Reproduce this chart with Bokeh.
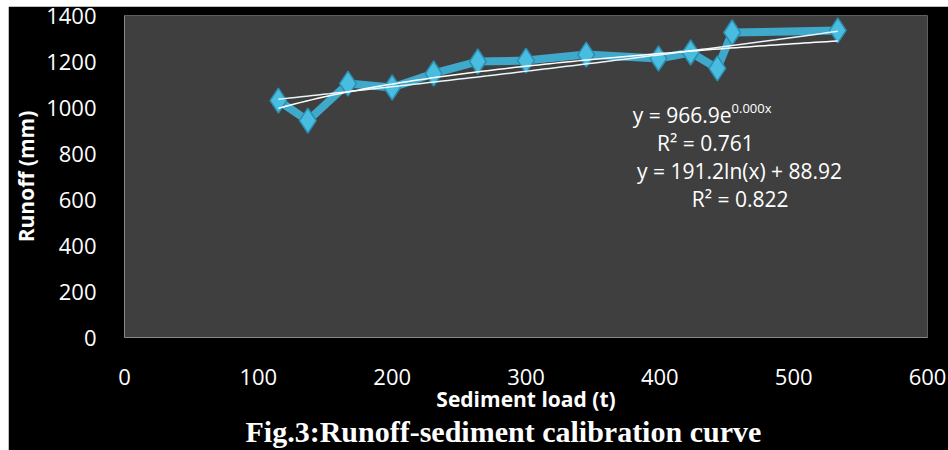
import numpy as np
from bokeh.plotting import figure
from bokeh.models import Range1d, Label, Title, Spacer, FixedTicker
from bokeh.layouts import column, row
from bokeh.embed import file_html
from bokeh.resources import INLINE

# Data
sediment = [115, 137, 167, 200, 231, 264, 300, 345, 399, 423, 443, 454, 533]
runoff = [1030, 943, 1104, 1087, 1148, 1200, 1204, 1230, 1213, 1239, 1170, 1326, 1335]
x_ticks = [0, 100, 200, 300, 400, 500, 600]
y_ticks = [0, 200, 400, 600, 800, 1000, 1200, 1400]

# Trendline equations shown on the chart
exp_a, exp_b = 966.9, 0.0006
log_a, log_b = 191.2, 88.92
eq_exp = "y = 966.9e"
eq_exp_sup = "0.000x"
eq_exp_r2 = "R² = 0.761"
eq_log = "y = 191.2ln(x) + 88.92"
eq_log_r2 = "R² = 0.822"

title_text = "Fig.3:Runoff-sediment calibration curve"

p = figure(frame_width=803, frame_height=322,
           output_backend="svg", toolbar_location=None,
           x_range=Range1d(0, 600), y_range=Range1d(0, 1400),
           min_border_left=116, min_border_right=21, min_border_top=9, min_border_bottom=113)
p.background_fill_color = "#3f3f3f"
p.border_fill_color = "black"
p.outline_line_color = None
p.grid.visible = False

tick_font = "Open Sans"
for ax in (p.xaxis[0], p.yaxis[0]):
    ax.major_label_text_color = "white"
    ax.major_label_text_font = tick_font
    ax.major_label_text_font_size = "22px"
    ax.major_tick_line_color = None
    ax.minor_tick_line_color = None
    ax.axis_line_color = "#8a8a8a"
    ax.axis_line_width = 1
    ax.axis_label_text_color = "white"
    ax.axis_label_text_font = tick_font
    ax.axis_label_text_font_style = "bold"
    ax.axis_label_text_font_size = "21px"

p.xaxis.ticker = FixedTicker(ticks=x_ticks)
p.yaxis.ticker = FixedTicker(ticks=y_ticks)
p.xaxis.axis_label = "Sediment load (t)"
p.yaxis.axis_label = "Runoff (mm)"
p.xaxis.major_label_standoff = 25
p.yaxis.major_label_standoff = 22
p.xaxis.axis_label_standoff = -3
p.yaxis.axis_label_standoff = 3

# series
p.line(sediment, runoff, line_color="#3fa9cc", line_width=8, line_join="round")
p.scatter(sediment, runoff, marker="diamond", size=25, fill_color="#49bde0",
          line_color="#2b8db0", line_width=1.5)

# trendlines
xs = np.linspace(min(sediment), max(sediment), 100)
p.line(xs, exp_a * np.exp(exp_b * xs), line_color="#e8f6fb", line_width=1.5)
p.line(xs, log_a * np.log(xs) + log_b, line_color="white", line_width=1.5)

lab = dict(text_color="white", text_font="Open Sans", text_font_size="21px",
           text_baseline="middle")
p.add_layout(Label(x=453.6, y=967, text=eq_exp, text_align="right", **lab))
p.add_layout(Label(x=453.6, y=997, text=eq_exp_sup, text_align="left",
                   text_color="white", text_font="Open Sans", text_font_size="13px",
                   text_baseline="middle"))
p.add_layout(Label(x=434, y=846, text=eq_exp_r2, text_align="center", **lab))
p.add_layout(Label(x=459.6, y=724, text=eq_log, text_align="center", **lab))
p.add_layout(Label(x=460, y=604, text=eq_log_r2, text_align="center", **lab))

t = Title(text=title_text, align="left", text_color="white",
          text_font="Liberation Serif", text_font_style="bold", text_font_size="30px",
          offset=121, standoff=-5)
p.add_layout(t, "below")

layout = column(Spacer(height=6), row(Spacer(width=8), p, spacing=0), spacing=0)
open("out.html", "w").write(file_html(layout, INLINE))
